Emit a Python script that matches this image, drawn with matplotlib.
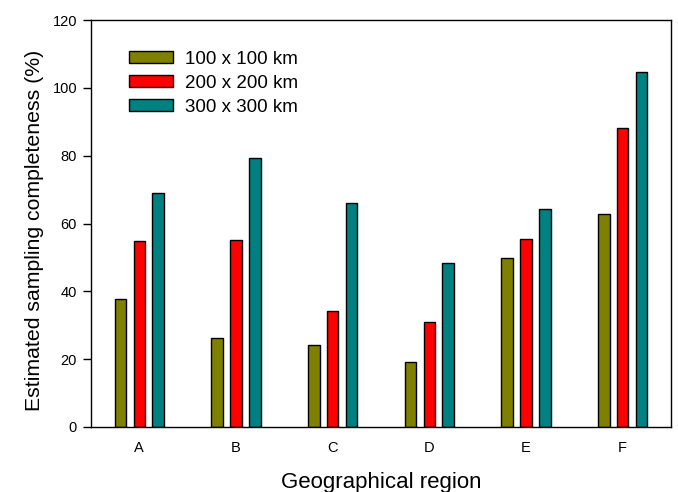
import matplotlib
matplotlib.use("Agg")
import matplotlib.pyplot as plt
import numpy as np

plt.rcParams['font.family'] = ['Liberation Sans', 'DejaVu Sans']

regions = ["A", "B", "C", "D", "E", "F"]
series_names = ["100 x 100 km", "200 x 200 km", "300 x 300 km"]
s100 = [37.7, 26.3, 24.3, 19.1, 49.7, 62.7]
s200 = [54.9, 55.0, 34.2, 31.1, 55.5, 88.1]
s300 = [68.9, 79.3, 66.1, 48.4, 64.4, 104.8]
colors = ["#808000", "#FF0000", "#008080"]

fig = plt.figure(figsize=(6.78, 4.92), dpi=100)
ax = fig.add_axes([91/678, 1-427/492, (671-91)/678, (427-20)/492])

x = np.arange(len(regions))
w = 0.12
off = 0.196
for i, (vals, name, c) in enumerate(zip([s100, s200, s300], series_names, colors)):
    ax.bar(x + (i-1)*off, vals, width=w, color=c, edgecolor='black', linewidth=1.0, label=name)

ax.set_xlim(-0.5, 5.5)
ax.set_ylim(0, 120)
ax.set_yticks(np.arange(0, 121, 20))
ax.set_xticks(x)
ax.set_xticklabels(regions)
ax.tick_params(axis='x', length=0, pad=10, labelsize=10.5)
ax.tick_params(axis='y', length=6, width=1, direction='out', labelsize=10.5, pad=4)
for s in ax.spines.values():
    s.set_linewidth(1.0)

ax.set_xlabel("Geographical region", fontsize=16, labelpad=12)
ax.set_ylabel("Estimated sampling completeness (%)", fontsize=15.3, labelpad=6)
ax.yaxis.label.set_y(0.484)

ax.legend(loc='upper left', bbox_to_anchor=(0.0655, 0.925), frameon=False,
          fontsize=13.5, handlelength=2.35, handleheight=0.59, handletextpad=0.64,
          labelspacing=0.38, borderaxespad=0, borderpad=0)

fig.savefig("out.png", dpi=100)
